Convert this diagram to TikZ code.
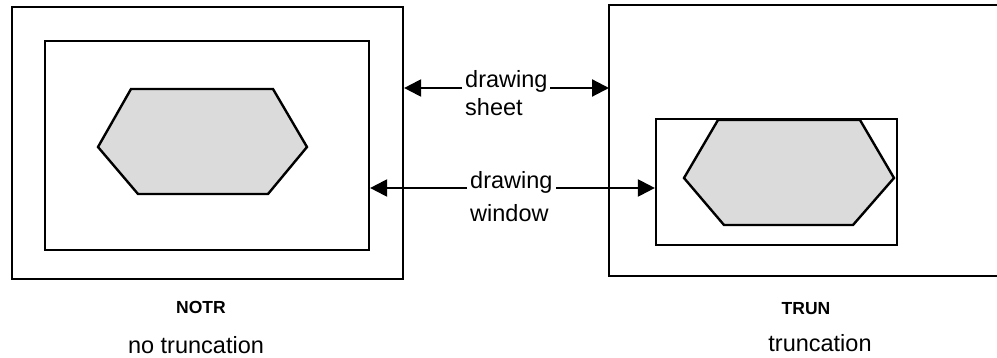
\documentclass[tikz,border=0pt]{standalone}
\usepackage{fontspec}
\setmainfont{Liberation Sans}
\usetikzlibrary{arrows.meta}
\begin{document}
\begin{tikzpicture}[x=1pt,y=-1pt,
  hexa/.style={draw,line width=2.4pt,fill=black!14,line join=miter},
  arr/.style={line width=2.2pt,-{Triangle[length=17pt,width=17pt]}},
  lbl/.style={anchor=base west,inner sep=0pt,font=\fontsize{23.5}{28}\selectfont},
  blbl/.style={anchor=base,inner sep=0pt,font=\fontsize{17.5}{21}\selectfont\bfseries},
  clbl/.style={anchor=base,inner sep=0pt,font=\fontsize{23.5}{28}\selectfont}]
\useasboundingbox (0,0) rectangle (997,358);
% left
\node[draw,line width=2.2pt,minimum width=391pt,minimum height=272pt,inner sep=0pt] (LO) at (207.5,143) {};
\node[draw,line width=2.2pt,minimum width=324pt,minimum height=209pt,inner sep=0pt] (LI) at (207,145.5) {};
\draw[hexa] (131,89) -- (273,89) -- (307,147) -- (268,194) -- (138,194) -- (98,147) -- cycle;
% right
\coordinate (RO) at (609,5);
\draw[line width=2.2pt] (1002,5) -- (RO) -- (609,276) -- (1002,276);
\begin{scope}
\clip (656,119) rectangle (897,245);
\draw[hexa] (718,120) -- (860,120) -- (894,178) -- (853,225) -- (724,225) -- (684,178) -- cycle;
\end{scope}
\node[draw,line width=2.2pt,minimum width=241pt,minimum height=126pt,inner sep=0pt] (RI) at (776.5,182) {};
% labels
\node[lbl] (s1) at (465,88) {drawing};
\node[lbl] (s2) at (465,116) {sheet};
\node[lbl] (w1) at (470,189) {drawing};
\node[lbl] (w2) at (470,222) {window};
\coordinate (sa) at (462,88);
\coordinate (sb) at (550,88);
\coordinate (wa) at (467,188);
\coordinate (wb) at (556,188);
\draw[arr] (sa) -- (LO.east |- sa);
\draw[arr] (sb) -- (RO |- sb);
\draw[arr] (wa) -- (LI.east |- wa);
\draw[arr] (wb) -- (RI.west |- wb);
\node[blbl] (n1) at (201,314) {NOTR};
\node[clbl] (n2) at (196,353) {no truncation};
\node[blbl] (t1) at (806,315) {TRUN};
\node[clbl] (t2) at (820,352) {truncation};
\end{tikzpicture}
\end{document}
